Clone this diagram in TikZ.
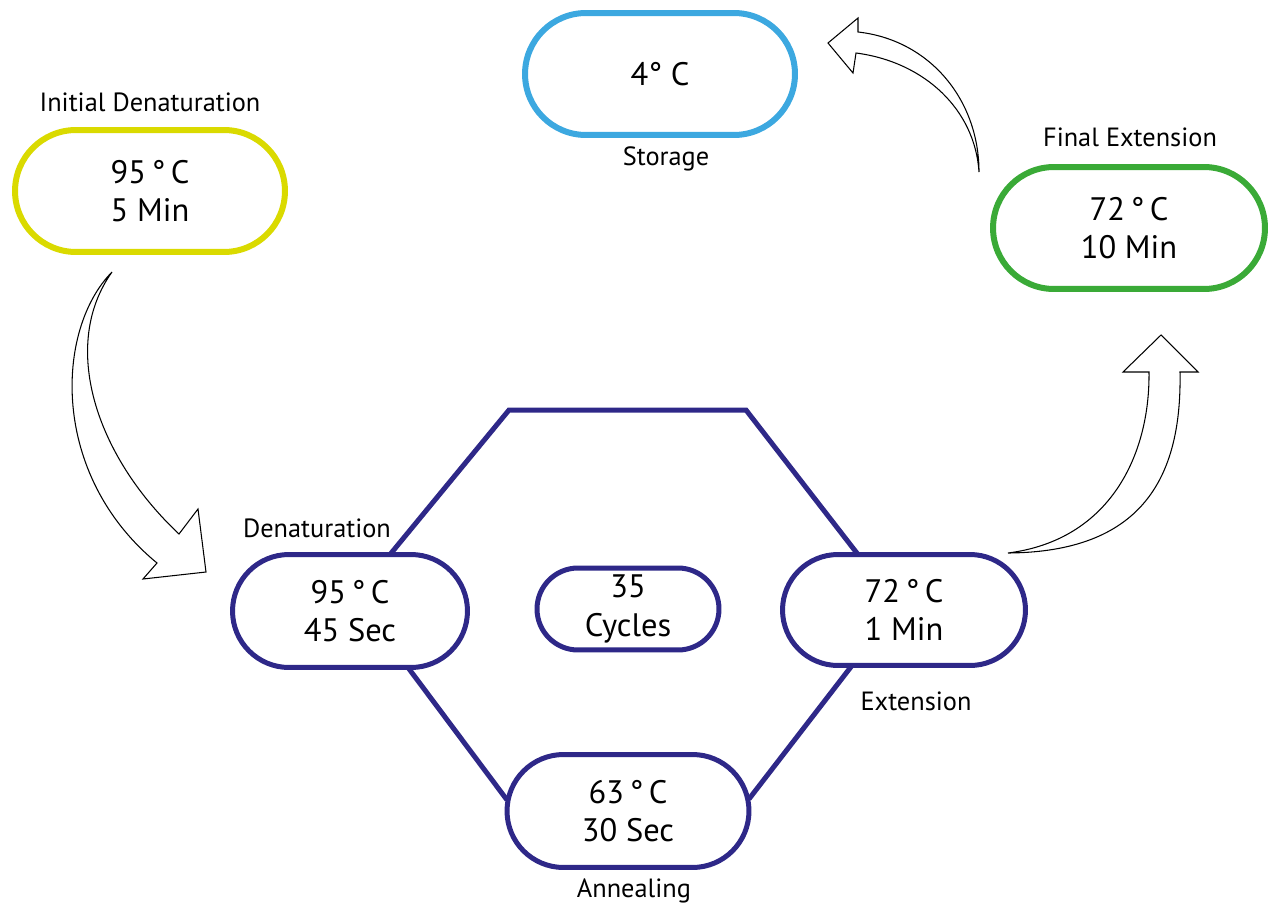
\documentclass[tikz,border=0pt]{standalone}
\usepackage{fontspec}
\setmainfont{PT Sans}
\usepackage{xcolor}
\usepackage{tikz}
\usetikzlibrary{shapes.misc, calc, backgrounds}
\definecolor{pcryellow}{RGB}{218,218,0}
\definecolor{pcrblue}{RGB}{60,168,224}
\definecolor{pcrgreen}{RGB}{58,170,55}
\definecolor{pcrnavy}{RGB}{46,40,136}
\tikzstyle{stage} = [rounded rectangle, fill=white, line width=0.1cm, draw=pcrnavy, align=center, inner sep=0pt, outer sep=0pt, font=\fontsize{18.5}{22}\selectfont]
\tikzstyle{caption} = [anchor=base, inner sep=0pt, font=\fontsize{15}{17}\selectfont]
\tikzstyle{hexline} = [line width=0.1cm, draw=pcrnavy]
\tikzstyle{bigarrow} = [draw=black, line width=0.6pt, fill=white]

\begin{document}
\begin{tikzpicture}[x=0.02cm, y=-0.02cm]
    \useasboundingbox (0,0) rectangle (1274,909);
    % outer steps
    \node(init)[stage, draw=pcryellow, line width=0.12cm, minimum width=5.4cm, minimum height=2.44cm] at (150,191) {95\,°\,C\\5 Min};
    \node(store)[stage, draw=pcrblue, line width=0.12cm, minimum width=5.4cm, minimum height=2.44cm] at (660,74) {4°\ C};
    \node(final)[stage, draw=pcrgreen, line width=0.12cm, minimum width=5.44cm, minimum height=2.44cm] at (1129,228) {72\,°\,C\\10 Min};
    % cycle steps
    \node(denat)[stage, minimum width=4.7cm, minimum height=2.26cm] at (350,611) {95\,°\,C\\45 Sec};
    \node(cycles)[stage, minimum width=3.64cm, minimum height=1.64cm] at (628,609) {35\\Cycles};
    \node(ext)[stage, minimum width=4.86cm, minimum height=2.22cm] at (904,610) {72\,°\,C\\1 Min};
    \node(anneal)[stage, minimum width=4.84cm, minimum height=2.26cm] at (628,811) {63\,°\,C\\30 Sec};
    % captions
    \node(initlbl)[caption] at (150,112) {Initial Denaturation};
    \node(storelbl)[caption] at (666,165) {Storage};
    \node(finallbl)[caption] at (1130,147) {Final Extension};
    \node(denatlbl)[caption] at (317,537) {Denaturation};
    \node(extlbl)[caption] at (916,710) {Extension};
    \node(anneallbl)[caption] at (634,897) {Annealing};
    % hexagon
    \coordinate (hexTL) at (509,410);
    \coordinate (hexTR) at (746,410);
    \begin{scope}[on background layer]
        \draw[hexline] ($(denat.north)+(40,0)$) -- (hexTL) -- (hexTR) -- ($(ext.north)+(-46,0)$);
        \draw[hexline] ($(denat.south)+(58,0)$) -- ($(anneal.west)+(0,-11)$);
        \draw[hexline] ($(ext.south)+(-52,0)$) -- ($(anneal.east)+(0,-12)$);
    \end{scope}
    % hollow arrows
    \draw[bigarrow] (112,272) .. controls (55,330) and (50,475) .. (157,563) -- (143,579) -- (206,572) -- (198,509) -- (179,534) .. controls (95,455) and (60,345) .. cycle;
    \draw[bigarrow] (1008,553) .. controls (1110,540) and (1150,455) .. (1149,372) -- (1123,372) -- (1161,335) -- (1198,372) -- (1180,372) .. controls (1182,480) and (1140,552) .. cycle;
    \draw[bigarrow] (979,172) .. controls (979,100) and (930,40) .. (858,32) -- (858,18) -- (828,43) -- (853,73) -- (856,53) .. controls (925,62) and (975,110) .. cycle;
\end{tikzpicture}
\end{document}
